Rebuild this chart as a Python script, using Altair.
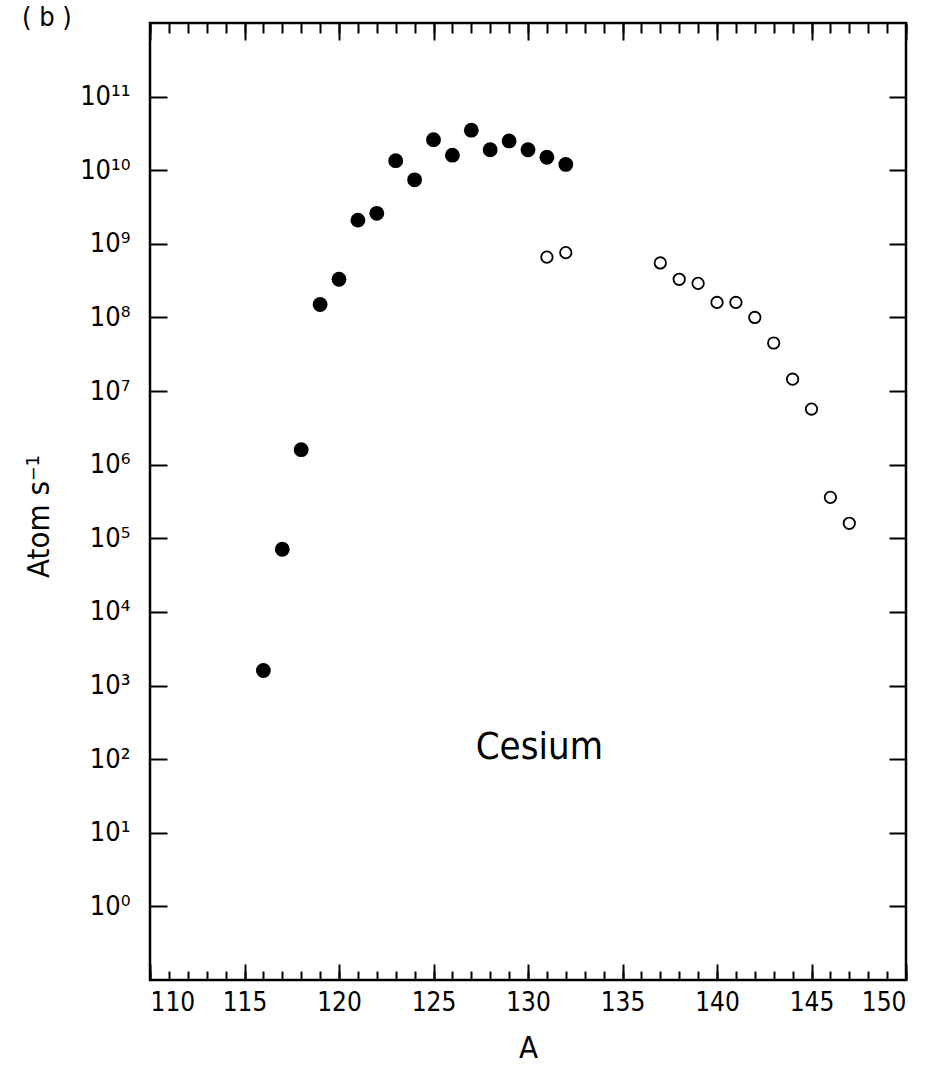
import altair as alt
import pandas as pd

# ---- data ----
filled_A = [116, 117, 118, 119, 120, 121, 122, 123, 124, 125, 126, 127, 128, 129, 130, 131, 132]
filled_rate = [1.6e3, 7.1e4, 1.6e6, 1.5e8, 3.3e8, 2.1e9, 2.6e9, 1.35e10, 7.4e9, 2.6e10,
               1.6e10, 3.5e10, 1.9e10, 2.5e10, 1.9e10, 1.5e10, 1.2e10]
open_A = [131, 132, 137, 138, 139, 140, 141, 142, 143, 144, 145, 146, 147]
open_rate = [6.6e8, 7.6e8, 5.5e8, 3.3e8, 2.9e8, 1.6e8, 1.6e8, 1.0e8, 4.5e7, 1.45e7,
             5.7e6, 3.6e5, 1.6e5]
x_major = [110, 115, 120, 125, 130, 135, 140, 145, 150]
x_minor = list(range(110, 151))
y_decades = [1e0, 1e1, 1e2, 1e3, 1e4, 1e5, 1e6, 1e7, 1e8, 1e9, 1e10, 1e11]
annot_text = ["Cesium"]
annot_A = [130.6]
annot_rate = [140]
panel_label = ["( b )"]

W, H = 756, 957
FONT = "Liberation Sans Narrow, DejaVu Sans Condensed, Roboto Condensed, DejaVu Sans"

df_f = pd.DataFrame({"A": filled_A, "rate": filled_rate})
df_o = pd.DataFrame({"A": open_A, "rate": open_rate})
df_t = pd.DataFrame({"A": annot_A, "rate": annot_rate, "label": annot_text})
df_p = pd.DataFrame({"label": panel_label})

xs = alt.Scale(domain=[110, 150], nice=False, zero=False)
ys = alt.Scale(type="log", domain=[1e-1, 1e12], nice=False)

sup_expr = ("'10' + ['\u2070','\u00b9','\u00b2','\u00b3','\u2074','\u2075','\u2076','\u2077',"
            "'\u2078','\u2079','\u00b9\u2070','\u00b9\u00b9'][round(log(datum.value)/LN10)]")


def tick_axis(orient, values, size):
    return alt.Axis(orient=orient, offset=-(H if orient in ("top", "bottom") else W),
                    values=values, tickSize=size, tickWidth=2, tickColor="black",
                    labels=False, domain=False, grid=False, title=None)


x_label_axis = alt.Axis(orient="bottom", values=x_major, ticks=False, domain=False, grid=False,
                        labelPadding=9, labelFontSize=26, labelFont=FONT, labelColor="black",
                        title="A", titleFont=FONT, titleFontSize=31, titleFontWeight="normal",
                        titleColor="black", titlePadding=18)
y_label_axis = alt.Axis(orient="left", values=y_decades, ticks=False, domain=False, grid=False,
                        labelExpr=sup_expr, labelPadding=20, labelFontSize=27, labelFont=FONT,
                        labelColor="black", labelBaseline="middle",
                        title="Atom s\u207b\u00b9", titleFont=FONT, titleFontSize=31,
                        titleFontWeight="normal", titleColor="black", titleX=-95, titleY=493)

filled = alt.Chart(df_f).mark_circle(size=220, color="black", opacity=1).encode(
    x=alt.X("A:Q", scale=xs, axis=x_label_axis),
    y=alt.Y("rate:Q", scale=ys, axis=y_label_axis),
)

opened = alt.Chart(df_o).mark_point(shape="circle", size=130, filled=False, color="black",
                                    strokeWidth=1.8, opacity=1).encode(
    x=alt.X("A:Q", scale=xs, axis=tick_axis("top", x_major, 16)),
    y=alt.Y("rate:Q", scale=ys, axis=tick_axis("right", y_decades, 17)),
)

ax3 = alt.Chart(df_f).mark_point(opacity=0).encode(
    x=alt.X("A:Q", scale=xs, axis=tick_axis("top", x_minor, 9)),
    y=alt.Y("rate:Q", scale=ys, axis=tick_axis("left", y_decades, 17)),
)
ax4 = alt.Chart(df_f).mark_point(opacity=0).encode(
    x=alt.X("A:Q", scale=xs, axis=tick_axis("bottom", x_major, 17)),
    y=alt.Y("rate:Q", scale=ys, axis=None),
)
ax5 = alt.Chart(df_f).mark_point(opacity=0).encode(
    x=alt.X("A:Q", scale=xs, axis=tick_axis("bottom", x_minor, 10)),
    y=alt.Y("rate:Q", scale=ys, axis=None),
)

text = alt.Chart(df_t).mark_text(font=FONT, fontSize=38, color="black", align="center",
                                 baseline="middle").encode(
    x=alt.X("A:Q", scale=xs, axis=None),
    y=alt.Y("rate:Q", scale=ys, axis=None),
    text="label:N",
)

panel = alt.Chart(df_p).mark_text(font=FONT, fontSize=27, color="black", align="left",
                                  baseline="middle").encode(
    x=alt.value(-128), y=alt.value(-5), text="label:N",
)

chart = alt.layer(filled, opened, ax3, ax4, ax5, text, panel).resolve_axis(
    x="independent", y="independent"
).properties(
    width=W, height=H,
    autosize=alt.AutoSizeParams(type="none"),
    padding={"left": 150, "top": 23, "right": 34, "bottom": 92},
    background="white",
).configure_view(stroke="black", strokeWidth=2.5)

chart.save("out.html", embed_options={"renderer": "svg", "actions": False})
